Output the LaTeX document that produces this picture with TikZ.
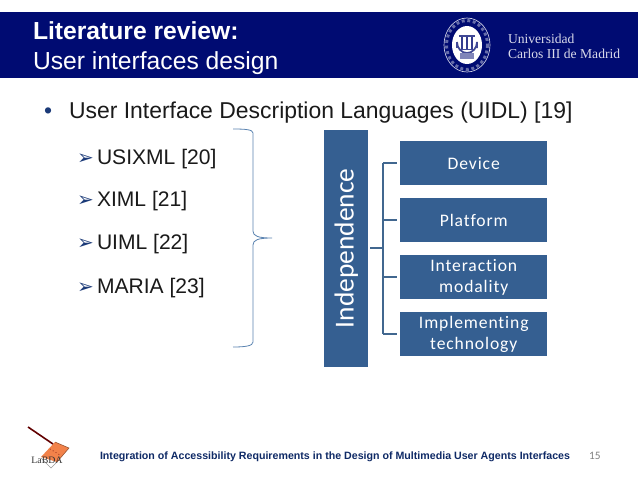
\documentclass[tikz,border=0pt]{standalone}
\usepackage{fontspec}
\setmainfont{Liberation Sans}
\newfontfamily\carl{Carlito}
\newfontfamily\carlsp[LetterSpace=5,Ligatures=CommonOff]{Carlito}
\newfontfamily\serifl{Liberation Serif}
\newfontfamily\dejav{DejaVu Sans}
\definecolor{banner}{HTML}{000B72}
\definecolor{boxblue}{HTML}{355F91}
\definecolor{linkblue}{HTML}{41678F}
\definecolor{bracecol}{HTML}{5B84B1}
\definecolor{bodytext}{HTML}{1A1A1A}
\definecolor{foot}{HTML}{0F2A66}
\definecolor{navymark}{HTML}{1B3A78}
\definecolor{logoorange}{HTML}{F2824A}
\tikzset{
  txt/.style={anchor=base west,inner sep=0pt,outer sep=0pt},
  body/.style={txt,font=\fontsize{15.8pt}{18pt}\selectfont,text=bodytext},
  tick/.style={txt,font=\dejav\fontsize{15pt}{18pt}\selectfont,text=navymark},
  leaf/.style={fill=boxblue,draw=none,minimum width=110.25pt,minimum height=33pt,inner sep=0pt,
    anchor=north west,text=white,align=center,font=\carlsp\fontsize{13.2pt}{15.8pt}\selectfont},
  link/.style={draw=linkblue,line width=1.3pt},
}
\begin{document}
\begin{tikzpicture}[x=0.75pt,y=-0.75pt]
\useasboundingbox (0,0) rectangle (638,479);
\fill[white] (0,0) rectangle (638,479);
% banner
\fill[banner] (0,12) rectangle (638,77.5);
\node[txt,text=white,font=\bfseries\fontsize{18.5pt}{20pt}\selectfont] (title1) at (33,39) {Literature review:};
\node[txt,text=white,font=\fontsize{18.5pt}{20pt}\selectfont] (title2) at (33,69.5) {User interfaces design};
% university seal
\draw[white!80!banner,line width=.5pt] (467,45) ellipse (23 and 27);
\draw[white!40!banner,line width=2.2pt,dotted] (467,45) ellipse (20.5 and 24.5);
\fill[white] (467,45) ellipse (15 and 19);
\draw[banner!75!white,line width=1.3pt] (457,42) arc[start angle=180,end angle=0,x radius=10,y radius=11] -- (477,48);
\draw[banner!75!white,line width=1.3pt] (457,42) -- (457,48);
\foreach \px in {462,467,472}{\draw[banner!80!white,line width=1.6pt] (\px,36) -- (\px,49);}
\draw[banner!75!white,line width=1.2pt] (459,36) -- (475,36) (459,49.5) -- (475,49.5);
\fill[banner!50!white] (460,53) rectangle (474,59);
\node[txt,text=white!85!banner,font=\serifl\fontsize{10.2pt}{12pt}\selectfont] (uni1) at (508,43) {Universidad};
\node[txt,text=white!85!banner,font=\serifl\fontsize{10.2pt}{12pt}\selectfont] (uni2) at (508,58) {Carlos III de Madrid};
% body
\node[txt,font=\fontsize{17.2pt}{18pt}\selectfont,text=navymark] (bul) at (44,118) {•};
\node[txt,font=\fontsize{17.2pt}{18pt}\selectfont,text=bodytext] (head) at (69,118) {User Interface Description Languages (UIDL) [19]};
\node[tick] (m1) at (77,164) {➢};
\node[body] (i1) at (97,164) {USIXML [20]};
\node[tick] (m2) at (77,206.5) {➢};
\node[body] (i2) at (97,206.5) {XIML [21]};
\node[tick] (m3) at (77,249.5) {➢};
\node[body] (i3) at (97,249.5) {UIML [22]};
\node[tick] (m4) at (77,293) {➢};
\node[body] (i4) at (97,293) {MARIA [23]};
% brace
\draw[bracecol,line width=.6pt] (233,129) .. controls (245,129) and (253,129.5) .. (253,133)
  -- (253,231) .. controls (253,236) and (258,238) .. (272,238)
  .. controls (258,238) and (253,240) .. (253,245)
  -- (253,342) .. controls (253,346) and (245,347) .. (233,347);
% diagram
\node[fill=boxblue,minimum width=33pt,minimum height=178pt,inner sep=0pt,anchor=north west] (ind) at (324,129.5) {};
\node[text=white,rotate=90,font=\carl\fontsize{20.6pt}{22pt}\selectfont,inner sep=0pt] (indt) at (ind.center) {Independence};
\node[leaf] (d1) at (400,141) {Device};
\node[leaf] (d2) at (400,198) {Platform};
\node[leaf] (d3) at (400,255) {Interaction\\modality};
\node[leaf] (d4) at (400,312) {Implementing\\technology};
\coordinate (tr) at (383,248);
\coordinate (st) at (370,248);
\draw[link] (st) -- (tr);
\draw[link] (d1.west -| tr) -- (d4.west -| tr);
\draw[link,shorten >=2pt] (d1.west -| tr) -- (d1.west);
\draw[link,shorten >=2pt] (d2.west -| tr) -- (d2.west);
\draw[link,shorten >=2pt] (d3.west -| tr) -- (d3.west);
\draw[link,shorten >=2pt] (d4.west -| tr) -- (d4.west);
% lab logo
\draw[black!40,line width=.4pt] (41,458) -- (51,468) -- (58,461);
\fill[logoorange] (55,442) -- (69,448) -- (57,462) -- (41,457) -- cycle;
\draw[logoorange!60!black,line width=.4pt] (55,442) -- (69,448) -- (57,462);
\draw[black!45!red!70!black,line width=1.2pt] (28,427) -- (53,444);
\draw[black!60!red,line width=.5pt,dotted] (50,449) -- (60,455);
\node[font=\serifl\fontsize{7.4pt}{8pt}\selectfont,text=black!80,inner sep=0pt] (lab) at (47,460.5) {LaBDA};
% footer
\node[txt,text=foot,font=\bfseries\fontsize{7.98pt}{10pt}\selectfont] (fo) at (100,459) {Integration of Accessibility Requirements in the Design of Multimedia User Agents Interfaces};
\node[txt,text=black!50,font=\carl\fontsize{8.5pt}{10pt}\selectfont] (pg) at (589,459) {15};
\end{tikzpicture}
\end{document}
